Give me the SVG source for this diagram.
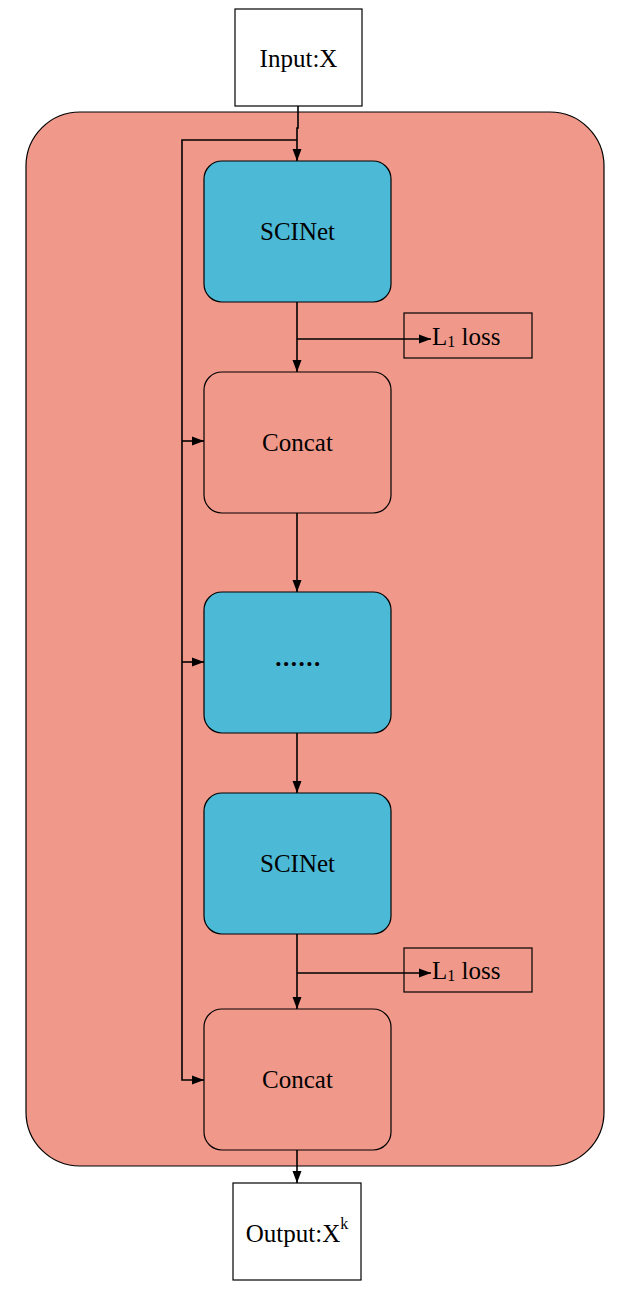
<svg xmlns="http://www.w3.org/2000/svg" width="635" height="1297" viewBox="0 0 635 1297">
<style>
.t{font-family:"Liberation Serif","Times New Roman",serif;font-size:25px;fill:#000;text-anchor:middle;dominant-baseline:central}
.ls{text-anchor:start}
.w{fill:#fff;stroke:#000;stroke-width:1.2}
.b{fill:#4CB9D6;stroke:#000;stroke-width:1.2}
.s{fill:#F0998A;stroke:#000;stroke-width:1.2}
.l{fill:none;stroke:#000;stroke-width:1.6}
</style>
<defs>
<marker id="a" viewBox="0 0 12 10" refX="12" refY="5" markerWidth="12" markerHeight="10" markerUnits="userSpaceOnUse" orient="auto">
<path d="M0,0.5 L12,5 L0,9.5 Z" fill="#000"/>
</marker>
</defs>
<g id="container"><rect class="s" x="26" y="112" width="578" height="1054" rx="54"/></g>
<g id="input"><rect class="w" x="235" y="9" width="127" height="97"/><text class="t" x="298.5" y="58">Input:X</text></g>
<g id="scinet1"><rect class="b" x="204" y="161" width="187" height="141" rx="18"/><text class="t" x="297.5" y="231">SCINet</text></g>
<g id="loss1"><rect class="s" x="404" y="313" width="128" height="45"/><text class="t ls" x="432" y="336">L<tspan font-size="16" dy="5">1</tspan><tspan dy="-5"> loss</tspan></text></g>
<g id="concat1"><rect class="s" x="204" y="372" width="187" height="141" rx="18"/><text class="t" x="297.5" y="442">Concat</text></g>
<g id="dots"><rect class="b" x="204" y="592" width="187" height="141" rx="18"/><text class="t" x="298.5" y="657" font-weight="bold" font-size="26" letter-spacing="1.5">......</text></g>
<g id="scinet2"><rect class="b" x="204" y="793" width="187" height="141" rx="18"/><text class="t" x="297.5" y="863">SCINet</text></g>
<g id="loss2"><rect class="s" x="404" y="948" width="128" height="44"/><text class="t ls" x="432" y="970">L<tspan font-size="16" dy="5">1</tspan><tspan dy="-5"> loss</tspan></text></g>
<g id="concat2"><rect class="s" x="204" y="1009" width="187" height="141" rx="18"/><text class="t" x="297.5" y="1079">Concat</text></g>
<g id="output"><rect class="w" x="233" y="1183" width="128" height="97"/><text class="t" x="297" y="1233">Output:X<tspan font-size="16" dy="-10">k</tspan></text></g>
<g id="connectors">
<path class="l" d="M298,106 V128 H297 V161" marker-end="url(#a)"/>
<path class="l" d="M297,140 H182 V1080 H204" marker-end="url(#a)"/>
<path class="l" d="M182,441 H204" marker-end="url(#a)"/>
<path class="l" d="M182,662 H204" marker-end="url(#a)"/>
<path class="l" d="M297,302 V372" marker-end="url(#a)"/>
<path class="l" d="M297,339 H431" marker-end="url(#a)"/>
<path class="l" d="M297,513 V592" marker-end="url(#a)"/>
<path class="l" d="M297,733 V793" marker-end="url(#a)"/>
<path class="l" d="M297,934 V1009" marker-end="url(#a)"/>
<path class="l" d="M297,973 H431" marker-end="url(#a)"/>
<path class="l" d="M297,1150 V1183" marker-end="url(#a)"/>
</g>
</svg>
